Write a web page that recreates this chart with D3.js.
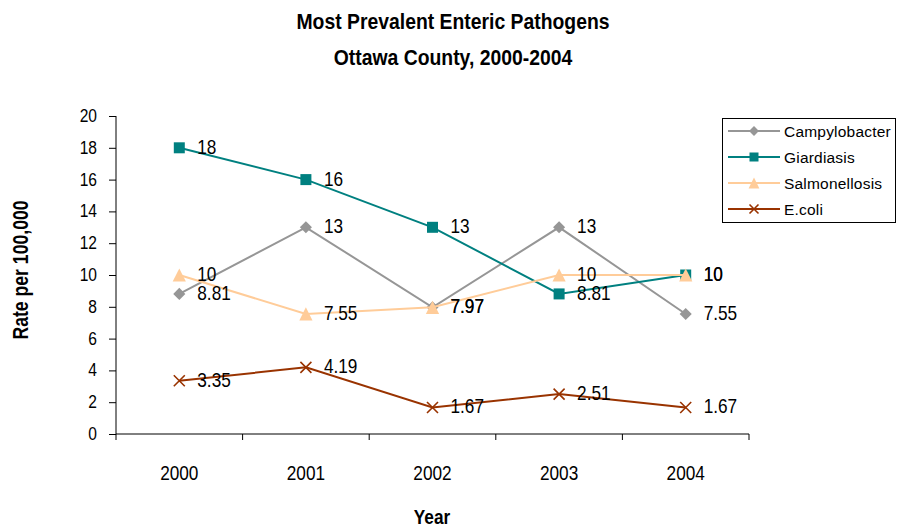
<!DOCTYPE html>
<html><head><meta charset="utf-8">
<script src="https://cdn.jsdelivr.net/npm/d3@7"></script>
<style>body{margin:0;background:#fff}svg{display:block}</style>
</head><body>
<svg id="c" width="901" height="529"></svg>
<script>
const years = ["2000","2001","2002","2003","2004"];
const campylobacter = [8.81, 13, 7.97, 13, 7.55];
const giardiasis = [18, 16, 13, 8.81, 10];
const salmonellosis = [10, 7.55, 7.97, 10, 10];
const ecoli = [3.35, 4.19, 1.67, 2.51, 1.67];
const yTicks = [0,2,4,6,8,10,12,14,16,18,20];
const seriesNames = ["Campylobacter","Giardiasis","Salmonellosis","E.coli"];
const seriesColors = ["#969696","#008080","#FFCC99","#993300"];
const seriesShapes = ["diamond","square","triangle","x"];
const seriesValues = [campylobacter, giardiasis, salmonellosis, ecoli];

const font = "'Liberation Sans',Arial,sans-serif";
const NARROW = 0.82;
const svg = d3.select("#c");
const x = d3.scaleBand().domain(years).range([116, 749]);
const y = d3.scaleLinear().domain([0,20]).range([434,116]);

// narrow text helper: anchor at (px,py), horizontally condensed
function ntext(parent, px, py, str, size, opts={}){
  const g = parent.append("g").attr("transform",
    `translate(${px},${py})` + (opts.rotate ? ` rotate(${opts.rotate})` : "") + ` scale(${opts.nx||NARROW},1)`);
  g.append("text").attr("x",0).attr("y",0)
    .attr("text-anchor",opts.anchor||"start")
    .style("font-family",font).style("font-size",size+"px")
    .style("font-weight",opts.bold?"bold":"normal").attr("fill","#000").text(str);
  return g;
}

// title
ntext(svg, 453, 29, "Most Prevalent Enteric Pathogens", 22, {anchor:"middle", bold:true, nx:0.88});
ntext(svg, 453, 65, "Ottawa County, 2000-2004", 22, {anchor:"middle", bold:true, nx:0.88});

// axes
const ya = svg.append("g").attr("transform","translate(116,0)")
  .call(d3.axisLeft(y).tickValues(yTicks).tickSize(7).tickFormat(""));
ya.select(".domain").attr("d","M0,116V434");
yTicks.forEach(t=>ntext(svg, 97, y(t)+6, String(t), 19, {anchor:"end"}));

const xa = svg.append("g").attr("transform","translate(0,434)")
  .call(d3.axisBottom(x).tickSize(0).tickFormat(""));
xa.select(".domain").attr("d","M116,0H749");
const bounds = years.map(d=>x(d)).concat([x.range()[1]]);
xa.selectAll(".bt").data(bounds).enter().append("line").attr("class","bt")
  .attr("x1",d=>d).attr("x2",d=>d).attr("y1",0).attr("y2",6).attr("stroke","#000");
years.forEach(yr=>ntext(svg, x(yr)+x.bandwidth()/2, 480, yr, 21, {anchor:"middle"}));
svg.selectAll(".domain, .tick line").attr("stroke","#000");

// axis titles
ntext(svg, 432, 524, "Year", 21, {anchor:"middle", bold:true});
ntext(svg, 28, 270, "Rate per 100,000", 21.5, {anchor:"middle", bold:true, rotate:-90});

const cx = d => x(d) + x.bandwidth()/2;

function marker(g, shape, color, size){
  if(shape==="diamond"){
    const s=size*0.55;
    g.append("path").attr("d",`M0,${-s}L${s},0L0,${s}L${-s},0Z`).attr("fill",color);
  } else if(shape==="square"){
    g.append("rect").attr("x",-size/2).attr("y",-size/2).attr("width",size).attr("height",size).attr("fill",color);
  } else if(shape==="triangle"){
    const s=size*1.2;
    g.append("path").attr("d",`M0,${-s/2}L${s/2},${s/2}L${-s/2},${s/2}Z`).attr("fill",color);
  } else {
    const s=size/2;
    g.append("path").attr("d",`M${-s},${-s}L${s},${s}M${-s},${s}L${s},${-s}`).attr("stroke",color).attr("stroke-width",1.6);
  }
}

const line = d3.line().x((d,i)=>cx(years[i])).y(d=>y(d));
seriesValues.forEach((vals,si)=>{
  const g = svg.append("g");
  g.append("path").datum(vals).attr("d",line).attr("fill","none")
    .attr("stroke",seriesColors[si]).attr("stroke-width",2);
  vals.forEach((v,i)=>{
    const mg = g.append("g").attr("transform",`translate(${cx(years[i])},${y(v)})`);
    marker(mg, seriesShapes[si], seriesColors[si], 11);
  });
});
// data labels
seriesValues.forEach((vals,si)=>{
  vals.forEach((v,i)=>{
    ntext(svg, cx(years[i])+18, y(v)+6, String(v), 21);
  });
});

// legend
svg.append("rect").attr("x",722.5).attr("y",118.5).attr("width",173).attr("height",104)
  .attr("fill","#fff").attr("stroke","#000");
seriesNames.forEach((n,si)=>{
  const ly = 131 + si*26;
  const g = svg.append("g");
  g.append("line").attr("x1",728).attr("x2",780).attr("y1",ly).attr("y2",ly)
    .attr("stroke",seriesColors[si]).attr("stroke-width",2);
  const mg = g.append("g").attr("transform",`translate(754,${ly})`);
  marker(mg, seriesShapes[si], seriesColors[si], 9);
  g.append("text").attr("x",784).attr("y",ly+5.5).style("font-family",font)
    .style("font-size","15.5px").style("letter-spacing","0.2px").text(n);
});
</script>
</body></html>
